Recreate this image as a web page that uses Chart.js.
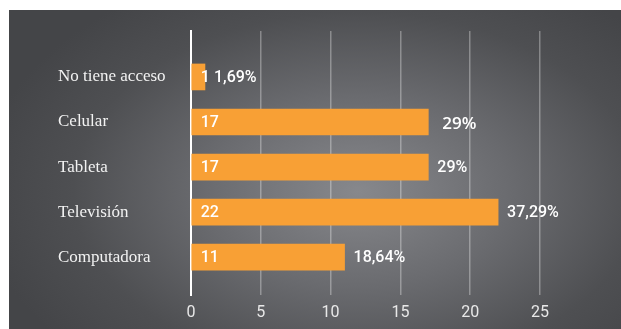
<!DOCTYPE html>
<html lang="es">
<head>
    <meta charset="UTF-8">
    <title>Acceso a dispositivos</title>
    <style>
        body {
            margin: 0;
            padding: 0;
            background: #ffffff;
            overflow: hidden;
        }

        .panel {
            position: absolute;
            left: 9px;
            top: 10px;
            width: 612px;
            height: 319px;
            background: radial-gradient(ellipse 62% 75% at 57% 57%, #87888c 0%, #6a6b6f 40%, #4e4f52 75%, #444548 100%);
        }

        canvas {
            display: block;
        }
    </style>
    <script src="https://cdn.jsdelivr.net/npm/chart.js"></script>
</head>
<body>
    <div class="panel">
        <canvas id="barChart" width="612" height="319"></canvas>
    </div>

    <script>
        // Categories, top to bottom
        const categories = ['No tiene acceso', 'Celular', 'Tableta', 'Televisión', 'Computadora'];
        // Number of answers per category
        const counts = [1, 17, 17, 22, 11];
        // Share labels shown to the right of each bar
        const shares = ['1,69%', '29%', '29%', '37,29%', '18,64%'];
        // Value axis ticks
        const xTicks = [0, 5, 10, 15, 20, 25];

        const barColor = '#f8a035';

        // Draws the count inside the bar and the share after it
        const barLabels = {
            id: 'barLabels',
            afterDatasetsDraw(chart, args, opts) {
                const ctx = chart.ctx;
                const meta = chart.getDatasetMeta(0);
                ctx.save();
                ctx.fillStyle = '#ffffff';
                ctx.textBaseline = 'middle';
                ctx.textAlign = 'left';
                meta.data.forEach((bar, i) => {
                    const p = bar.getProps(['x', 'y', 'base'], true);
                    ctx.font = '500 16px Roboto';
                    ctx.fillText(String(counts[i]), p.base + 9, p.y + 1);

                    // one share label in the original is bigger than the rest
                    if (i === opts.bigIndex) {
                        ctx.font = '600 17px "Open Sans"';
                        ctx.fillText(shares[i], p.x + 14, p.y + 2);
                    } else {
                        ctx.font = '500 16px Roboto';
                        ctx.fillText(shares[i], p.x + 9, p.y + 1);
                    }
                });
                ctx.restore();
            }
        };

        const ctx = document.getElementById('barChart').getContext('2d');

        const barChart = new Chart(ctx, {
            type: 'bar',
            data: {
                datasets: [{
                    data: categories.map((c, i) => ({ x: counts[i], y: i })),
                    backgroundColor: barColor,
                    borderWidth: 0,
                    barThickness: 26
                }]
            },
            options: {
                indexAxis: 'y',
                responsive: false,
                animation: false,
                layout: {
                    padding: { left: 49, top: 21, right: 81, bottom: 7 }
                },
                plugins: {
                    legend: { display: false },
                    tooltip: { enabled: false },
                    barLabels: { bigIndex: 1 }
                },
                scales: {
                    x: {
                        type: 'linear',
                        min: xTicks[0],
                        max: xTicks[xTicks.length - 1],
                        afterBuildTicks: (scale) => {
                            scale.ticks = xTicks.map(v => ({ value: v }));
                        },
                        afterFit: (scale) => {
                            scale.height = 27;
                        },
                        grid: {
                            color: 'rgba(255, 255, 255, 0.32)',
                            lineWidth: 1.5,
                            drawTicks: false
                        },
                        border: { display: false },
                        ticks: {
                            color: '#e8e8e8',
                            padding: 8,
                            font: { family: 'Roboto', size: 16 }
                        }
                    },
                    y: {
                        // numeric index axis so the rows can sit inside a taller frame
                        type: 'linear',
                        reverse: true,
                        offset: false,
                        min: -1.02,
                        max: 4.84,
                        afterFit: (scale) => {
                            scale.width = 133;
                        },
                        grid: {
                            color: 'rgba(0, 0, 0, 0)',
                            drawTicks: false,
                            offset: false
                        },
                        border: {
                            display: true,
                            color: '#ffffff',
                            width: 2
                        },
                        ticks: {
                            stepSize: 1,
                            includeBounds: false,
                            crossAlign: 'far',
                            color: '#f2f2f2',
                            font: { family: 'Liberation Serif', size: 17 },
                            callback: (value) => (Number.isInteger(value) && categories[value] !== undefined) ? categories[value] : ''
                        }
                    }
                }
            },
            plugins: [barLabels]
        });
    </script>
</body>
</html>
